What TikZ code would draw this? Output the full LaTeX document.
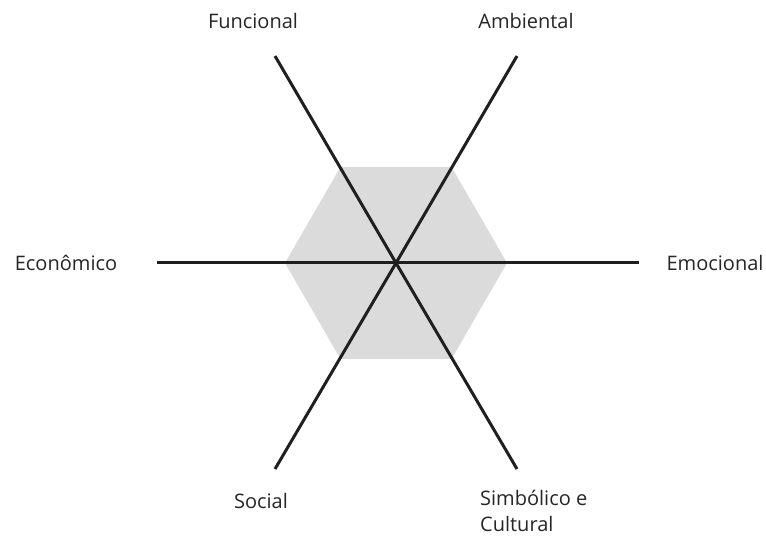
\documentclass[tikz,border=0pt]{standalone}
\usepackage{fontspec}
\setmainfont{Open Sans}
\begin{document}
\begin{tikzpicture}[x=1pt,y=-1pt,
  axis/.style={line width=3pt, draw=black!88},
  hexfill/.style={fill=black!14},
  lbl/.style={font=\fontsize{20}{25.5}\selectfont, text=black!85, inner sep=0pt}]
  % canvas
  \path[use as bounding box] (0,0) rectangle (766,537);
  \fill[white] (0,0) rectangle (766,537);

  % centre and axis end points
  \coordinate (c) at (396,263);
  \coordinate (e0) at (639,263);
  \coordinate (e60) at (517,56);
  \coordinate (e120) at (275,56);
  \coordinate (e180) at (157,263);
  \coordinate (e240) at (275,469);
  \coordinate (e300) at (517,469);

  % shaded hexagon
  \fill[hexfill] (507,263) -- (451.5,167) -- (340.5,167) -- (285,263)
    -- (340.5,359) -- (451.5,359) -- cycle;

  % six axes
  \foreach \e in {e0,e60,e120,e180,e240,e300}
    \draw[axis] (c) -- (\e);

  % labels
  \node[lbl] (funcional) at (253,21) {Funcional};
  \node[lbl] (ambiental) at (526,21) {Ambiental};
  \node[lbl] (economico) at (66,263) {Econômico};
  \node[lbl] (emocional) at (715,263) {Emocional};
  \node[lbl] (social) at (261,501) {Social};
  \node[lbl, align=left, anchor=north west] (simbolico) at (480,490) {Simbólico e\\Cultural};
\end{tikzpicture}
\end{document}
